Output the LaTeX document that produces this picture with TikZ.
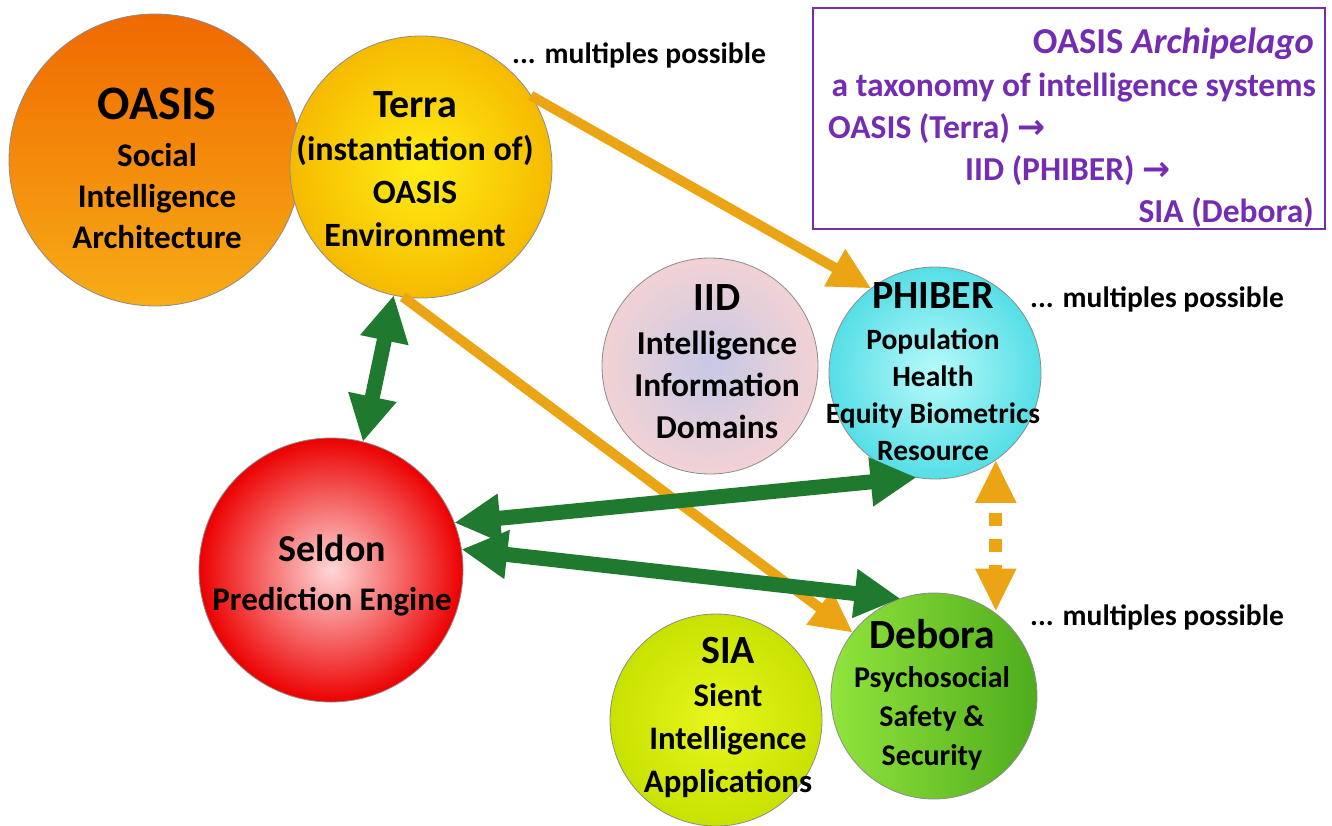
\documentclass[tikz,border=0pt]{standalone}
\usepackage{fontspec}
\setmainfont{Carlito}
\newfontfamily\arrowfont{DejaVu Sans}
\usetikzlibrary{arrows.meta,shapes.geometric}
\definecolor{oasisTop}{RGB}{240,105,0}
\definecolor{oasisBot}{RGB}{247,172,22}
\definecolor{terraIn}{RGB}{255,238,20}
\definecolor{terraOut}{RGB}{246,186,0}
\definecolor{iidIn}{RGB}{198,200,230}
\definecolor{iidOut}{RGB}{242,210,212}
\definecolor{phiIn}{RGB}{185,250,250}
\definecolor{phiOut}{RGB}{85,222,230}
\definecolor{selIn}{RGB}{255,215,215}
\definecolor{selOut}{RGB}{236,0,0}
\definecolor{siaIn}{RGB}{232,246,30}
\definecolor{siaOut}{RGB}{200,226,0}
\definecolor{debL}{RGB}{145,228,60}
\definecolor{debR}{RGB}{78,172,28}
\definecolor{linkGreen}{RGB}{31,122,48}
\definecolor{linkOrange}{RGB}{234,164,20}
\definecolor{boxPurple}{RGB}{116,44,178}
\tikzset{
  blob/.style={circle, inner sep=0pt, outer sep=0pt, draw=black!45, line width=0.8pt, minimum size=#1},
  txt/.style={align=center, inner sep=0pt, text=black, font=\bfseries},
  note/.style={inner sep=0pt, font=\bfseries\fontsize{29.5}{32}\selectfont, anchor=base west},
  boxtxt/.style={inner sep=0pt, text=boxPurple, font=\bfseries\fontsize{33.5}{40}\selectfont},
  greenlink/.style={draw=linkGreen, line width=15pt,
    {Triangle[length=46pt,width=46pt]}-{Triangle[length=46pt,width=46pt]}},
  orangelink/.style={draw=linkOrange, line width=10pt, -{Triangle[length=42pt,width=40pt]}},
  orangedash/.style={draw=linkOrange, line width=13pt, dash pattern=on 13pt off 13pt, dash phase=13pt,
    {Triangle[length=43pt,width=38pt]}-{Triangle[length=43pt,width=38pt]}}
}
\begin{document}
\begin{tikzpicture}[x=1pt,y=-1pt]
\useasboundingbox[fill=white] (0,0) rectangle (1332,825);
% circles
\node[blob=292, top color=oasisTop, bottom color=oasisBot] (oasis) at (155,160) {};
\node[blob=262, inner color=terraIn, outer color=terraOut] (terra) at (421,167) {};
\node[blob=216, inner color=iidIn, outer color=iidOut] (iid) at (710,366) {};
\node[blob=212, inner color=phiIn, outer color=phiOut] (phiber) at (935,373) {};
\node[blob=264, inner color=selIn, outer color=selOut] (seldon) at (331,570) {};
\node[blob=212, inner color=siaIn, outer color=siaOut] (sia) at (716,720) {};
\node[blob=206, left color=debL, right color=debR] (debora) at (934,696) {};
% orange links
\draw[orangelink] (terra.33) -- (phiber.127);
\draw[orangelink] (terra.-98) -- (debora.142);
\draw[orangedash] (phiber.-55) -- (phiber.-55 |- debora.55);
% green links
\draw[greenlink] (terra.-102) -- (seldon.76);
\draw[greenlink] (seldon.21) -- (phiber.-100);
\draw[greenlink] (seldon.9) -- (debora.109);
% texts
\node[txt, font=\bfseries\fontsize{33}{41}\selectfont] (oasisT) at (157,168)
  {{\fontsize{48}{48}\selectfont OASIS}\\[6pt] Social\\ Intelligence\\ Architecture};
\node[txt, font=\bfseries\fontsize{34}{43}\selectfont] (terraT) at (415,169)
  {{\fontsize{40}{40}\selectfont Terra}\\ (instantiation of)\\ OASIS\\ Environment};
\node[txt, font=\bfseries\fontsize{33.4}{42}\selectfont] (iidT) at (717,362)
  {{\fontsize{40}{40}\selectfont IID}\\[2pt] Intelligence\\ Information\\ Domains};
\node[txt, font=\bfseries\fontsize{29.5}{37}\selectfont] (phiberT) at (933,372)
  {{\fontsize{40}{40}\selectfont PHIBER}\\[4pt] Population\\ Health\\ Equity Biometrics\\ Resource};
\node[txt, font=\bfseries\fontsize{33}{49}\selectfont] (seldonT) at (332,575)
  {{\fontsize{38}{38}\selectfont Seldon}\\ Prediction Engine};
\node[txt, font=\bfseries\fontsize{32.8}{43}\selectfont] (siaT) at (728,717)
  {{\fontsize{40}{40}\selectfont SIA}\\ Sient\\ Intelligence\\ Applications};
\node[txt, font=\bfseries\fontsize{30}{39}\selectfont] (deboraT) at (932,695)
  {{\fontsize{41.5}{41.5}\selectfont Debora}\\ Psychosocial\\ Safety \&\\ Security};
% notes
\node[note] (note1) at (512,63) {... multiples possible};
\node[note] (note2) at (1030,307) {... multiples possible};
\node[note] (note3) at (1030,625) {... multiples possible};
% legend box
\draw[draw=boxPurple, line width=2.5pt] (813,8) rectangle (1325,229);
\node[boxtxt, anchor=base east, font=\bfseries\fontsize{36.5}{40}\selectfont] (legT) at (1314,53) {OASIS \textit{Archipelago}};
\node[boxtxt, anchor=base east] (leg1) at (1316,96) {a taxonomy of intelligence systems};
\node[boxtxt, anchor=base west] (leg2) at (828,138) {OASIS (Terra) {\arrowfont →}};
\node[boxtxt, anchor=base west] (leg3) at (965,180) {IID (PHIBER) {\arrowfont →}};
\node[boxtxt, anchor=base east] (leg4) at (1314,222) {SIA (Debora)};
\end{tikzpicture}
\end{document}
